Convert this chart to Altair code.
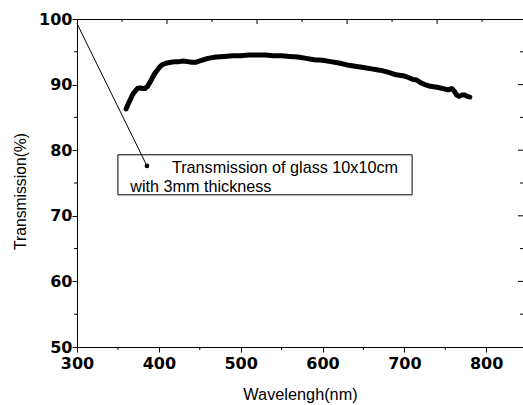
import altair as alt
import pandas as pd

# Measured transmission spectrum of a 10x10 cm glass plate, 3 mm thick
wavelength = [360, 362, 365, 368, 371, 374, 377, 380, 383, 386, 389, 392, 395,
              398, 401, 405, 410, 415, 420, 425, 430, 435, 440, 445, 450, 460,
              470, 480, 490, 500, 510, 520, 530, 540, 550, 560, 570, 580, 590,
              600, 610, 620, 630, 640, 650, 660, 670, 680, 690, 700, 705, 710,
              715, 720, 725, 730, 740, 750, 754, 758, 761, 764, 767, 770, 774,
              777, 780]
transmission = [86.3, 86.9, 87.7, 88.5, 89.0, 89.4, 89.5, 89.4, 89.4, 89.7,
                90.3, 91.0, 91.7, 92.2, 92.7, 93.1, 93.3, 93.4, 93.5, 93.5,
                93.6, 93.5, 93.4, 93.4, 93.6, 94.0, 94.2, 94.3, 94.4, 94.4,
                94.5, 94.5, 94.5, 94.4, 94.4, 94.3, 94.2, 94.0, 93.8, 93.7,
                93.5, 93.3, 93.0, 92.8, 92.6, 92.4, 92.2, 91.9, 91.5, 91.3,
                91.1, 90.8, 90.7, 90.3, 90.0, 89.8, 89.6, 89.3, 89.2, 89.4,
                89.0, 88.4, 88.2, 88.4, 88.4, 88.2, 88.1]

x_domain = [300, 845]
y_domain = [50, 100]
x_major = [300, 400, 500, 600, 700, 800]
x_minor = [350, 450, 550, 650, 750]
y_major = [50, 60, 70, 80, 90, 100]
y_minor = [55, 65, 75, 85, 95]
top_short = [355, 465, 575, 685, 795]
top_long = [410, 520, 630, 740]
right_major = [60, 70, 80, 90]

note_lines = ["Transmission of glass 10x10cm", "with 3mm thickness"]
note_x = [416, 365]
note_y = [76.5, 73.7]
note_box = {"x": 350, "x2": 709.5, "y": 79.3, "y2": 73.2}
leader = {"x": 300, "y": 99.3, "x2": 385.5, "y2": 77.6}

FONT = "Liberation Sans"
TICK_FONT = "DejaVu Sans"
W, H = 446, 328

xs = alt.Scale(domain=x_domain, nice=False, zero=False)
ys = alt.Scale(domain=y_domain, nice=False, zero=False)

spectrum = pd.DataFrame({"wl": wavelength, "t": transmission})

curve = alt.Chart(spectrum).mark_line(
    color="black", strokeWidth=5, strokeJoin="round", strokeCap="round"
).encode(
    x=alt.X("wl:Q", scale=xs, axis=alt.Axis(
        values=x_major, title="Wavelengh(nm)", tickSize=5, tickColor="black",
        domainColor="black", labelFont=TICK_FONT, labelFontSize=16,
        labelFontWeight="bold", labelColor="black", labelPadding=3,
        labelFlush=False, grid=False, titleFont=FONT, titleFontSize=16.3,
        titleFontWeight="normal", titleColor="black",
        titleBaseline="alphabetic", titleY=52, titleX=W / 2)),
    y=alt.Y("t:Q", scale=ys, axis=alt.Axis(
        values=y_major, title="Transmission(%)", tickSize=5, tickColor="black",
        domainColor="black", labelFont=TICK_FONT, labelFontSize=16,
        labelFontWeight="bold", labelColor="black", labelPadding=0,
        labelFlush=False, grid=False, titleFont=FONT, titleFontSize=15.7,
        titleFontWeight="normal", titleColor="black", titleAngle=-90,
        titleBaseline="middle", titleX=-57, titleY=172)),
)

# minor ticks on the bottom and left axes
bottom_minor = alt.Chart(pd.DataFrame({"v": x_minor})).mark_rule(
    color="black", strokeWidth=1
).encode(x=alt.X("v:Q", scale=xs), y=alt.value(H), y2=alt.value(H + 3))

left_minor = alt.Chart(pd.DataFrame({"v": y_minor})).mark_rule(
    color="black", strokeWidth=1
).encode(y=alt.Y("v:Q", scale=ys), x=alt.value(-3), x2=alt.value(0))

# inward ticks on the top frame
top_s = alt.Chart(pd.DataFrame({"v": top_short})).mark_rule(
    color="black", strokeWidth=1
).encode(x=alt.X("v:Q", scale=xs), y=alt.value(0), y2=alt.value(3))
top_l = alt.Chart(pd.DataFrame({"v": top_long})).mark_rule(
    color="black", strokeWidth=1
).encode(x=alt.X("v:Q", scale=xs), y=alt.value(0), y2=alt.value(5))

# inward ticks on the right frame
right_l = alt.Chart(pd.DataFrame({"v": right_major})).mark_rule(
    color="black", strokeWidth=1
).encode(y=alt.Y("v:Q", scale=ys), x=alt.value(W - 5), x2=alt.value(W))
right_s = alt.Chart(pd.DataFrame({"v": y_minor})).mark_rule(
    color="black", strokeWidth=1
).encode(y=alt.Y("v:Q", scale=ys), x=alt.value(W - 3), x2=alt.value(W))

box = alt.Chart(pd.DataFrame([note_box])).mark_rect(
    fill="white", stroke="black", strokeWidth=1
).encode(
    x=alt.X("x:Q", scale=xs), x2="x2:Q",
    y=alt.Y("y:Q", scale=ys), y2="y2:Q",
)

lead_df = pd.DataFrame([leader])
lead = alt.Chart(lead_df).mark_rule(color="black", strokeWidth=1).encode(
    x=alt.X("x:Q", scale=xs), x2="x2:Q",
    y=alt.Y("y:Q", scale=ys), y2="y2:Q",
)
dot = alt.Chart(lead_df).mark_point(
    filled=True, color="black", size=22, opacity=1
).encode(x=alt.X("x2:Q", scale=xs), y=alt.Y("y2:Q", scale=ys))

notes = alt.Chart(pd.DataFrame({"x": note_x, "y": note_y, "s": note_lines})).mark_text(
    align="left", baseline="alphabetic", font=FONT, fontSize=16.2, color="black"
).encode(x=alt.X("x:Q", scale=xs), y=alt.Y("y:Q", scale=ys), text="s:N")

chart = alt.layer(
    box, curve, bottom_minor, left_minor, top_s, top_l, right_l, right_s,
    lead, dot, notes
).properties(
    width=W, height=H,
    autosize=alt.AutoSizeParams(type="none"),
    padding={"left": 77, "top": 19, "right": 0, "bottom": 58},
    background="white",
).configure_view(stroke="black", strokeWidth=1)

chart.save("out.html", embed_options={"renderer": "svg", "actions": False})
